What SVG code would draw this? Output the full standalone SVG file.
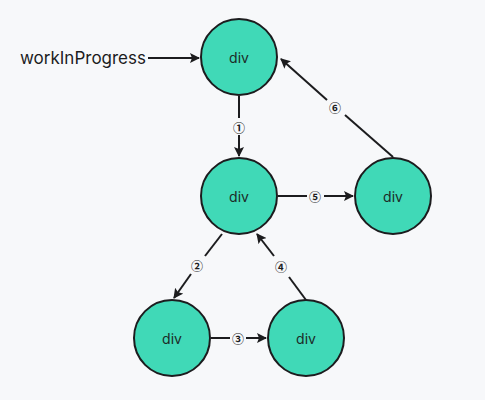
<svg xmlns="http://www.w3.org/2000/svg" width="485" height="400" viewBox="0 0 485 400">
<style>
.node{fill:#40d9b7;stroke:#1c1c1e;stroke-width:2}
.nt{font-family:"Inter","Liberation Sans",sans-serif;font-size:14px;fill:#1c2b27;text-anchor:middle;dominant-baseline:central}
.ln{stroke:#1c1c1e;stroke-width:2;fill:none}
.lb{font-family:"Noto Sans CJK SC","DejaVu Sans",sans-serif;font-size:12px;font-weight:bold;fill:#1c1c1e;text-anchor:middle;dominant-baseline:central}
.wip{font-family:"Inter","Liberation Sans",sans-serif;font-size:17px;fill:#1c1c1e}
</style>
<defs>
<marker id="ah" viewBox="0 0 10 10" refX="9" refY="5" markerWidth="5" markerHeight="5" orient="auto" markerUnits="strokeWidth">
<path d="M0,0 L10,5 L0,10 L2,5 z" fill="#1c1c1e"/>
</marker>
</defs>
<rect width="485" height="400" fill="#f7f8fa"/>
<g id="connectors">
<line class="ln" x1="148" y1="58" x2="199" y2="58" marker-end="url(#ah)"/>
<line class="ln" x1="239" y1="96" x2="239" y2="118"/>
<line class="ln" x1="239" y1="135" x2="239" y2="156" marker-end="url(#ah)"/>
<line class="ln" x1="278" y1="196" x2="307" y2="196"/>
<line class="ln" x1="324" y1="196" x2="353" y2="196" marker-end="url(#ah)"/>
<line class="ln" x1="393" y1="157" x2="345" y2="115"/>
<line class="ln" x1="327" y1="100" x2="281" y2="59" marker-end="url(#ah)"/>
<line class="ln" x1="222" y1="234" x2="205" y2="256"/>
<line class="ln" x1="191" y1="274" x2="174" y2="298" marker-end="url(#ah)"/>
<line class="ln" x1="211" y1="338" x2="230" y2="338"/>
<line class="ln" x1="246" y1="338" x2="266" y2="338" marker-end="url(#ah)"/>
<line class="ln" x1="306" y1="300" x2="289" y2="277"/>
<line class="ln" x1="274" y1="256" x2="257" y2="234" marker-end="url(#ah)"/>
<text class="lb" x="239" y="127">①</text>
<text class="lb" x="197" y="265">②</text>
<text class="lb" x="238" y="338">③</text>
<text class="lb" x="281" y="266">④</text>
<text class="lb" x="315" y="196">⑤</text>
<text class="lb" x="335" y="107">⑥</text>
</g>
<text class="wip" x="20" y="64">workInProgress</text>
<g id="n1"><circle class="node" cx="239" cy="57" r="38"/><text class="nt" x="239" y="57">div</text></g>
<g id="n2"><circle class="node" cx="239" cy="196" r="38"/><text class="nt" x="239" y="196">div</text></g>
<g id="n5"><circle class="node" cx="393" cy="196" r="38"/><text class="nt" x="393" y="196">div</text></g>
<g id="n3"><circle class="node" cx="172" cy="338" r="38"/><text class="nt" x="172" y="338">div</text></g>
<g id="n4"><circle class="node" cx="306" cy="338" r="38"/><text class="nt" x="306" y="338">div</text></g>
</svg>
